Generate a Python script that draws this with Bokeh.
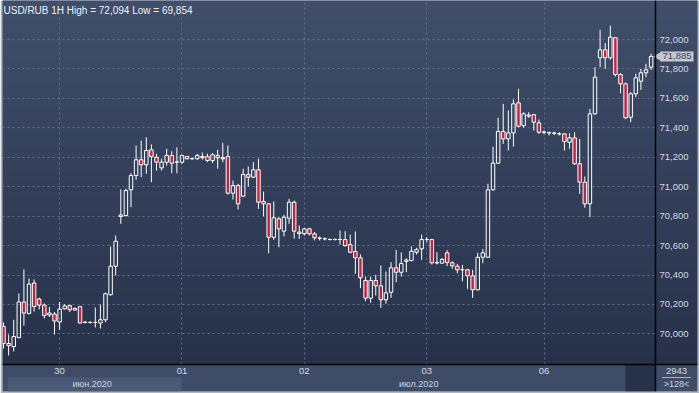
import numpy as np
from bokeh.plotting import figure
from bokeh.models import Range1d, LinearAxis, FixedTicker, Grid, Label, ColumnDataSource
from bokeh.embed import file_html
from bokeh.resources import INLINE

# ---- data: USD/RUB hourly bars ----
opens = [70.050, 69.935, 69.914, 69.976, 70.217, 70.139, 70.346, 70.237, 70.196, 70.129,
         70.135, 70.081, 70.171, 70.192, 70.162, 70.186, 70.078, 70.078, 70.078, 70.074,
         70.096, 70.266, 70.460, 70.798, 70.804, 70.979, 71.076, 71.183, 71.149, 71.251,
         71.200, 71.128, 71.167, 71.212, 71.167, 71.167, 71.205, 71.190, 71.190, 71.197,
         71.205, 71.178, 71.212, 71.190, 71.205, 70.956, 71.008, 70.936, 71.083, 71.065,
         71.115, 70.900, 70.884, 70.657, 70.782, 70.698, 70.786, 70.895, 70.682, 70.680,
         70.714, 70.680, 70.650, 70.646, 70.641, 70.641, 70.641, 70.641, 70.607, 70.560,
         70.517, 70.363, 70.243, 70.363, 70.327, 70.232, 70.283, 70.449, 70.419, 70.492,
         70.499, 70.555, 70.578, 70.641, 70.641, 70.483, 70.481, 70.551, 70.483, 70.460,
         70.436, 70.436, 70.395, 70.300, 70.521, 70.521, 70.979, 71.160, 71.375, 71.325,
         71.366, 71.570, 71.416, 71.480, 71.489, 71.434, 71.370, 71.366, 71.363, 71.359,
         71.359, 71.302, 71.332, 71.156, 71.031, 70.884, 71.495, 71.876, 71.930, 71.876,
         72.012, 71.762, 71.699, 71.472, 71.631, 71.717, 71.774, 71.812]
highs = [70.078, 69.996, 70.096, 70.275, 70.438, 70.376, 70.370, 70.247, 70.207, 70.183,
         70.149, 70.217, 70.203, 70.200, 70.180, 70.190, 70.088, 70.084, 70.180, 70.200,
         70.281, 70.594, 70.669, 70.981, 70.986, 71.092, 71.280, 71.314, 71.336, 71.287,
         71.224, 71.190, 71.258, 71.241, 71.268, 71.217, 71.208, 71.198, 71.224, 71.232,
         71.224, 71.228, 71.251, 71.298, 71.280, 71.042, 71.020, 71.122, 71.137, 71.167,
         71.190, 70.967, 70.888, 70.900, 70.793, 70.809, 70.918, 70.906, 70.737, 70.721,
         70.721, 70.692, 70.662, 70.655, 70.648, 70.648, 70.703, 70.698, 70.675, 70.696,
         70.540, 70.390, 70.390, 70.402, 70.465, 70.424, 70.487, 70.571, 70.553, 70.514,
         70.594, 70.585, 70.675, 70.657, 70.646, 70.555, 70.516, 70.569, 70.494, 70.476,
         70.469, 70.442, 70.436, 70.551, 70.578, 71.020, 71.273, 71.468, 71.563, 71.518,
         71.592, 71.665, 71.506, 71.506, 71.495, 71.457, 71.382, 71.375, 71.373, 71.370,
         71.363, 71.363, 71.370, 71.325, 71.069, 71.529, 71.812, 72.066, 71.975, 72.094,
         72.014, 71.771, 71.708, 71.642, 71.767, 71.801, 71.835, 71.903]
lows = [69.901, 69.854, 69.881, 69.969, 70.057, 70.132, 70.152, 70.166, 70.105, 70.115,
        69.996, 70.027, 70.166, 70.149, 70.159, 70.071, 70.071, 70.071, 70.044, 70.037,
        70.080, 70.261, 70.397, 70.748, 70.798, 70.861, 71.047, 71.065, 71.088, 71.031,
        71.110, 71.110, 71.144, 71.092, 71.092, 71.156, 71.186, 71.184, 71.184, 71.184,
        71.167, 71.160, 71.122, 71.167, 70.947, 70.913, 70.845, 70.929, 71.001, 71.058,
        70.850, 70.800, 70.548, 70.639, 70.589, 70.662, 70.748, 70.646, 70.646, 70.669,
        70.669, 70.635, 70.635, 70.635, 70.635, 70.635, 70.607, 70.594, 70.548, 70.408,
        70.311, 70.222, 70.211, 70.261, 70.177, 70.205, 70.245, 70.351, 70.390, 70.419,
        70.492, 70.540, 70.503, 70.623, 70.472, 70.472, 70.476, 70.460, 70.442, 70.412,
        70.358, 70.304, 70.245, 70.295, 70.481, 70.516, 70.974, 71.156, 71.291, 71.246,
        71.273, 71.404, 71.400, 71.468, 71.382, 71.359, 71.355, 71.348, 71.352, 71.348,
        71.246, 71.258, 71.149, 70.952, 70.857, 70.793, 71.490, 71.812, 71.801, 71.862,
        71.749, 71.635, 71.461, 71.438, 71.608, 71.658, 71.744, 71.794]
closes = [69.935, 69.921, 69.982, 70.217, 70.142, 70.339, 70.186, 70.196, 70.125, 70.142,
          70.088, 70.169, 70.190, 70.164, 70.173, 70.074, 70.080, 70.079, 70.078, 70.096,
          70.273, 70.460, 70.630, 70.808, 70.974, 71.076, 71.183, 71.149, 71.246, 71.205,
          71.167, 71.167, 71.212, 71.160, 71.168, 71.212, 71.190, 71.191, 71.212, 71.205,
          71.178, 71.217, 71.197, 71.198, 70.956, 71.008, 70.884, 71.083, 71.065, 71.115,
          70.895, 70.884, 70.657, 70.789, 70.714, 70.793, 70.895, 70.698, 70.692, 70.714,
          70.680, 70.653, 70.651, 70.647, 70.642, 70.642, 70.642, 70.599, 70.555, 70.517,
          70.381, 70.243, 70.363, 70.327, 70.232, 70.279, 70.449, 70.419, 70.478, 70.502,
          70.562, 70.573, 70.641, 70.642, 70.483, 70.484, 70.506, 70.485, 70.463, 70.436,
          70.437, 70.395, 70.300, 70.521, 70.551, 70.979, 71.160, 71.375, 71.325, 71.366,
          71.563, 71.411, 71.495, 71.487, 71.438, 71.370, 71.371, 71.367, 71.364, 71.360,
          71.307, 71.332, 71.156, 71.031, 70.884, 71.495, 71.744, 71.930, 71.876, 72.016,
          71.762, 71.699, 71.468, 71.631, 71.740, 71.774, 71.794, 71.885]

day_tick_bars = [11, 35, 59, 83, 106]
day_tick_labels = ["30", "01", "02", "03", "06"]
month_boundary_bar = 35
month_labels = ["июн.2020", "июл.2020"]
price_ticks = [70.0, 70.2, 70.4, 70.6, 70.8, 71.0, 71.2, 71.4, 71.6, 71.8, 72.0]
price_tick_labels = ["70,000", "70,200", "70,400", "70,600", "70,800", "71,000",
                     "71,200", "71,400", "71,600", "71,800", "72,000"]
corner_texts = ["2943", ">%d<" % len(closes)]


def fmt(v):
    return ("%.3f" % v).replace(".", ",")


# ---- layout / style ----
W, H = 699, 393
x_lo, x_axis_at, x_hi = -0.2, 127.85, 136.1       # bars | price column
y_lo, y_strip, y_month, y_hi = 69.609, 69.792, 69.704, 72.265   # time strip below y_strip
FONT = "Liberation Sans"
LABEL_COLOR = "#d3d9e3"
RED = "#c8203e"
STRIP = "#3f4c68"
EDGE = "#aeb6c3"

p = figure(width=W, height=H, x_range=Range1d(x_lo, x_hi), y_range=Range1d(y_lo, y_hi),
           output_backend="svg", toolbar_location=None,
           x_axis_location=None, y_axis_location=None,
           min_border_left=2, min_border_right=2, min_border_top=0, min_border_bottom=2)
p.center = [r for r in p.center if not isinstance(r, Grid)]
p.border_fill_color = EDGE
p.background_fill_color = STRIP
p.outline_line_color = None

# vertical background gradient over the chart area
n = 120
t = np.linspace(0.0, 1.0, n)
c_bot = np.array([39, 49, 74], dtype=float)
c_top = np.array([64, 78, 106], dtype=float)
rgb = (c_bot[None, :] + (c_top - c_bot)[None, :] * t[:, None]).round().astype(np.uint8)
img = np.empty((n, 1), dtype=np.uint32)
view = img.view(dtype=np.uint8).reshape((n, 1, 4))
view[:, 0, 0] = rgb[:, 0]
view[:, 0, 1] = rgb[:, 1]
view[:, 0, 2] = rgb[:, 2]
view[:, 0, 3] = 255
p.image_rgba(image=[img], x=x_lo, y=y_strip, dw=x_hi - x_lo, dh=y_hi - y_strip, level="image")

# strip decorations: current-month band and scroller box
p.quad(left=x_lo + 1.0, right=month_boundary_bar, bottom=y_lo, top=y_month,
       fill_color="#4b5876", line_color=None, level="image")
p.quad(left=x_axis_at - 5.9, right=x_axis_at, bottom=y_lo, top=y_strip,
       fill_color="#27314a", line_color=None, level="image")

# price axis, drawn at the right end of the bar area
yax = LinearAxis(ticker=FixedTicker(ticks=price_ticks),
                 major_label_overrides=dict(zip(price_ticks, price_tick_labels)),
                 fixed_location=x_axis_at)
yax.axis_line_color = "black"
yax.axis_line_width = 1.5
yax.major_tick_line_color = None
yax.minor_tick_line_color = None
yax.major_tick_out = 0
yax.major_tick_in = 0
yax.major_label_text_color = LABEL_COLOR
yax.major_label_text_font = FONT
yax.major_label_text_font_size = "9.5px"
yax.major_label_standoff = 4
p.add_layout(yax, "right")

# time axes (day row on the strip line, month row below), counter in price column
cx = (x_axis_at + x_hi) / 2.0
day_ticks_all = day_tick_bars + [cx]
xax = LinearAxis(ticker=FixedTicker(ticks=day_ticks_all),
                 major_label_overrides=dict(zip(day_ticks_all, day_tick_labels + [corner_texts[0]])),
                 fixed_location=y_strip)
xax.axis_line_color = "black"
xax.axis_line_width = 1.5
xax.major_tick_line_color = None
xax.minor_tick_line_color = None
xax.major_tick_out = 0
xax.major_tick_in = 0
xax.major_label_text_color = LABEL_COLOR
xax.major_label_text_font = FONT
xax.major_label_text_font_size = "9.5px"
xax.major_label_standoff = 3
p.add_layout(xax, "below")

month_centers = [(x_lo + month_boundary_bar) / 2.0, (month_boundary_bar + x_axis_at) / 2.0]
month_ticks_all = month_centers + [cx]
max_ = LinearAxis(ticker=FixedTicker(ticks=month_ticks_all),
                  major_label_overrides=dict(zip(month_ticks_all, month_labels + [corner_texts[1]])),
                  fixed_location=y_month)
max_.axis_line_color = None
max_.major_tick_line_color = None
max_.minor_tick_line_color = None
max_.major_tick_out = 0
max_.major_tick_in = 0
max_.major_label_text_color = "#cdd4df"
max_.major_label_text_font = FONT
max_.major_label_text_font_size = "9px"
max_.major_label_standoff = 1
p.add_layout(max_, "below")

grid_kw = dict(grid_line_color="#61708c", grid_line_dash="2 3", grid_line_width=1)
vgrid = Grid(dimension=0, ticker=FixedTicker(ticks=day_tick_bars), **grid_kw)
hgrid = Grid(dimension=1, ticker=yax.ticker, **grid_kw)
try:
    vgrid.cross_bounds = (y_strip, y_hi)
    hgrid.cross_bounds = (x_lo, x_axis_at)
except Exception:
    pass
p.add_layout(vgrid)
p.add_layout(hgrid)

# counter separator line
p.segment(x0=[x_axis_at + 1.3], y0=[y_month], x1=[x_hi - 1.3], y1=[y_month],
          line_color="#aab3c2", line_width=1)

# candles
o = np.array(opens); h = np.array(highs); l = np.array(lows); c = np.array(closes)
x = np.arange(len(o))
top = np.maximum(o, c)
bot = np.minimum(o, c)
src = ColumnDataSource(dict(x=x, h=h, l=l, top=top, bot=bot))
p.segment(x0="x", y0="h", x1="x", y1="top", source=src, line_color="white", line_width=1)
p.segment(x0="x", y0="bot", x1="x", y1="l", source=src, line_color="white", line_width=1)

up = c >= o
dn = ~up
p.vbar(x=x[up], width=0.68, top=top[up], bottom=bot[up], fill_alpha=0,
       line_color="white", line_width=1)
p.vbar(x=x[dn], width=0.68, top=top[dn], bottom=bot[dn], fill_color=RED,
       line_color="white", line_width=1)

# title text
p.add_layout(Label(x=x_lo, y=y_hi, x_offset=1, y_offset=-4, text_baseline="top",
                   text="USD/RUB 1H High = %s Low = %s" % (fmt(max(highs)), fmt(min(lows))),
                   text_color="#eef1f5", text_font=FONT, text_font_size="10px"))

# last price tag
TAG = "#c3c7ce"
p.scatter(x=[x_axis_at + 0.7], y=[closes[-1]], marker="triangle", angle=np.pi / 2,
          size=10, fill_color=TAG, line_color=None)
tag = Label(x=x_axis_at, y=closes[-1], x_offset=5, text_baseline="middle",
            text=fmt(closes[-1]), text_color="#3a4560", text_font=FONT,
            text_font_size="9.5px", background_fill_color=TAG)
try:
    tag.padding = 2
except Exception:
    pass
p.add_layout(tag)

open("out.html", "w").write(file_html(p, INLINE))
